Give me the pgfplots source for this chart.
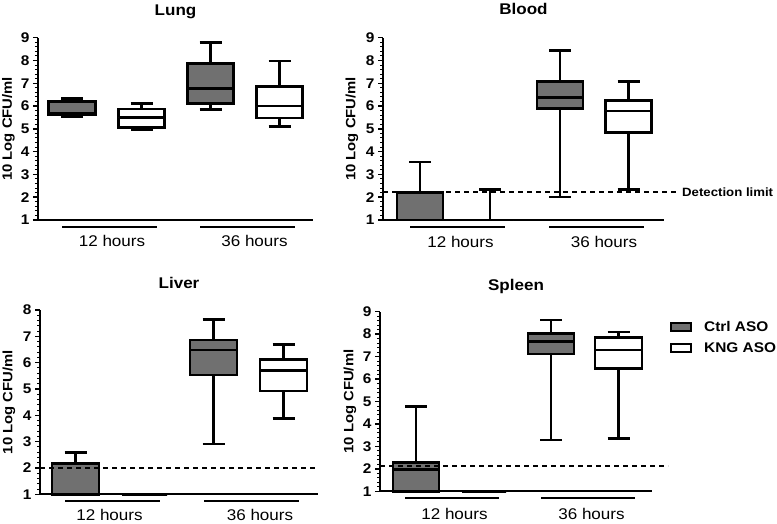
\documentclass[border=0pt]{standalone}
\usepackage{fontspec}
\setmainfont{Liberation Sans}[FakeStretch=1.1]
\usepackage{pgfplots}
\pgfplotsset{compat=1.18}
\usepgfplotslibrary{statistics}
\definecolor{ctrl}{RGB}{112,112,112}

\newcommand{\tickfont}{\bfseries\fontsize{14}{14}\selectfont}
\newcommand{\labfont}{\bfseries\fontsize{13.5}{14}\selectfont}
\newcommand{\titfont}{\bfseries\fontsize{15.5}{16}\selectfont}
\newcommand{\grpfont}{\fontsize{15.5}{16}\selectfont}

\pgfplotsset{
  panel/.style={
    scale only axis, enlargelimits=false, clip=false,
    anchor=south west,
    axis x line=bottom, axis y line=left,
    axis line style={-, line width=2pt},
    xmin=0, ymin=1, xtick=\empty,
    ytick distance=1, minor y tick num=4,
    tick align=outside, major tick length=5pt, minor tick length=3pt,
    every major tick/.append style={line width=1.5pt, black},
    every minor tick/.append style={line width=1pt, black},
    yticklabel style={font=\tickfont},
    /pgf/number format/assume math mode=true,
    boxplot/draw direction=y,
  },
  bx/.style={draw=black, line width=2.6pt, solid},
}

\begin{document}
\begin{tikzpicture}
\useasboundingbox (0,0) rectangle (777pt,-523pt);

% ---------------- Lung ----------------
\begin{axis}[panel, at={(38pt,-220pt)}, width=275pt, height=182.3pt, xmax=275, ymax=9]
\addplot[bx, fill=ctrl, boxplot prepared={draw position=34, lower whisker=5.52, lower quartile=5.60, median=5.69, upper quartile=6.19, upper whisker=6.34, box extend=47, whisker extend=22}] coordinates {};
\addplot[bx, fill=white, boxplot prepared={draw position=103.5, lower whisker=4.97, lower quartile=5.05, median=5.50, upper quartile=5.87, upper whisker=6.10, box extend=46, whisker extend=22}] coordinates {};
\addplot[bx, fill=ctrl, boxplot prepared={draw position=172.5, lower whisker=5.86, lower quartile=6.12, median=6.78, upper quartile=7.88, upper whisker=8.78, box extend=46, whisker extend=22}] coordinates {};
\addplot[bx, fill=white, boxplot prepared={draw position=241.5, lower whisker=5.10, lower quartile=5.47, median=6.00, upper quartile=6.87, upper whisker=7.98, box extend=46, whisker extend=22}] coordinates {};
\draw[line width=1.8pt] ([yshift=-7pt]axis cs:24,1) -- ([yshift=-7pt]axis cs:119,1);
\draw[line width=1.8pt] ([yshift=-7pt]axis cs:162,1) -- ([yshift=-7pt]axis cs:257,1);
\node[anchor=base, font=\grpfont] at ([yshift=-26pt]axis cs:74,1) {12 hours};
\node[anchor=base, font=\grpfont] at ([yshift=-26pt]axis cs:216.5,1) {36 hours};
\node[rotate=90, font=\labfont] at ([xshift=-29.5pt]rel axis cs:0,0.5) {10 Log CFU/ml};
\node[anchor=base, font=\titfont] at ([yshift=22pt]rel axis cs:0.5,1) {Lung};
\end{axis}

% ---------------- Blood ----------------
\begin{axis}[panel, at={(383pt,-220pt)}, width=281pt, height=182.3pt, xmax=281, ymax=9]
\addplot[bx, fill=ctrl, boxplot prepared={draw position=37, lower whisker=1, lower quartile=1, median=1, upper quartile=2.21, upper whisker=3.54, box extend=46, whisker extend=22}] coordinates {};
\addplot[bx, fill=white, boxplot prepared={draw position=107, lower whisker=1, lower quartile=1, median=1, upper quartile=1, upper whisker=2.33, box extend=46, whisker extend=22}] coordinates {};
\addplot[bx, fill=ctrl, boxplot prepared={draw position=177, lower whisker=2.01, lower quartile=5.89, median=6.37, upper quartile=7.09, upper whisker=8.43, box extend=46, whisker extend=22}] coordinates {};
\addplot[bx, fill=white, boxplot prepared={draw position=245.5, lower whisker=2.33, lower quartile=4.84, median=5.79, upper quartile=6.24, upper whisker=7.09, box extend=46, whisker extend=22}] coordinates {};
\addplot[line width=2pt, dash pattern=on 5pt off 4pt] coordinates {(0,2.21) (295,2.21)};
\node[anchor=west, inner sep=0pt, font=\bfseries\fontsize{12}{12}\selectfont] at ([xshift=4pt]axis cs:295,2.21) {Detection limit};
\draw[line width=1.8pt] ([yshift=-7pt]axis cs:27,1) -- ([yshift=-7pt]axis cs:122,1);
\draw[line width=1.8pt] ([yshift=-7pt]axis cs:166,1) -- ([yshift=-7pt]axis cs:261,1);
\node[anchor=base, font=\grpfont] at ([yshift=-27pt]axis cs:77.5,1) {12 hours};
\node[anchor=base, font=\grpfont] at ([yshift=-27pt]axis cs:221,1) {36 hours};
\node[rotate=90, font=\labfont] at ([xshift=-31pt]rel axis cs:0,0.5) {10 Log CFU/ml};
\node[anchor=base, font=\titfont] at ([yshift=23pt]rel axis cs:0.5,1) {Blood};
\end{axis}

% ---------------- Liver ----------------
\begin{axis}[panel, at={(40pt,-494.3pt)}, width=278pt, height=184.3pt, xmax=278, ymax=8]
\addplot[bx, fill=ctrl, boxplot prepared={draw position=35.5, lower whisker=1, lower quartile=1, median=1, upper quartile=2.18, upper whisker=2.59, box extend=47, whisker extend=22}] coordinates {};
\addplot[bx, fill=white, boxplot prepared={draw position=104.5, lower whisker=1, lower quartile=1, median=1, upper quartile=1, upper whisker=1, box extend=45, whisker extend=22}] coordinates {};
\addplot[bx, fill=ctrl, boxplot prepared={draw position=173.5, lower whisker=2.91, lower quartile=5.53, median=6.48, upper quartile=6.86, upper whisker=7.65, box extend=47, whisker extend=22}] coordinates {};
\addplot[bx, fill=white, boxplot prepared={draw position=243.5, lower whisker=3.87, lower quartile=4.92, median=5.70, upper quartile=6.13, upper whisker=6.70, box extend=47, whisker extend=22}] coordinates {};
\addplot[line width=2pt, dash pattern=on 5pt off 4pt] coordinates {(0,2.01) (278,2.01)};
\draw[line width=1.8pt] ([yshift=-6.5pt]axis cs:25,1) -- ([yshift=-6.5pt]axis cs:120,1);
\draw[line width=1.8pt] ([yshift=-6.5pt]axis cs:164,1) -- ([yshift=-6.5pt]axis cs:259,1);
\node[anchor=base, font=\grpfont] at ([yshift=-26pt]axis cs:69.5,1) {12 hours};
\node[anchor=base, font=\grpfont] at ([yshift=-26pt]axis cs:220,1) {36 hours};
\node[rotate=90, font=\labfont] at ([xshift=-31pt]rel axis cs:0,0.5) {10 Log CFU/ml};
\node[anchor=base, font=\titfont] at ([yshift=22pt]rel axis cs:0.5,1) {Liver};
\end{axis}

% ---------------- Spleen ----------------
\begin{axis}[panel, at={(380pt,-491.3pt)}, width=272pt, height=179.6pt, xmax=272, ymax=9,
  legend style={at={(rel axis cs:1,1)}, anchor=north west, xshift=18pt, yshift=-7pt,
    draw=none, fill=none, inner sep=0pt, row sep=6pt,
    font=\bfseries\fontsize{14}{14}\selectfont,
    /tikz/every odd column/.append style={column sep=10pt}},
  legend cell align=left,
  legend image code/.code={\draw (0pt,-4pt) rectangle (20pt,4pt);}]
\addlegendimage{draw=black, fill=ctrl, line width=2pt}
\addlegendentry{Ctrl ASO}
\addlegendimage{draw=black, fill=white, line width=2pt}
\addlegendentry{KNG ASO}
\addplot[bx, fill=ctrl, boxplot prepared={draw position=36, lower whisker=1, lower quartile=1, median=1.98, upper quartile=2.29, upper whisker=4.77, box extend=46, whisker extend=22}] coordinates {};
\addplot[bx, fill=white, boxplot prepared={draw position=104, lower whisker=1, lower quartile=1, median=1, upper quartile=1, upper whisker=1, box extend=44, whisker extend=22}] coordinates {};
\addplot[bx, fill=ctrl, boxplot prepared={draw position=171, lower whisker=3.28, lower quartile=7.11, median=7.66, upper quartile=8.03, upper whisker=8.63, box extend=46, whisker extend=22}] coordinates {};
\addplot[bx, fill=white, boxplot prepared={draw position=238.5, lower whisker=3.36, lower quartile=6.46, median=7.29, upper quartile=7.84, upper whisker=8.09, box extend=47, whisker extend=22}] coordinates {};
\addplot[line width=2pt, dash pattern=on 5pt off 4pt] coordinates {(0,2.14) (288,2.14)};
\draw[line width=1.8pt] ([yshift=-7pt]axis cs:25,1) -- ([yshift=-7pt]axis cs:119,1);
\draw[line width=1.8pt] ([yshift=-7pt]axis cs:161,1) -- ([yshift=-7pt]axis cs:255,1);
\node[anchor=base, font=\grpfont] at ([yshift=-28pt]axis cs:74.5,1) {12 hours};
\node[anchor=base, font=\grpfont] at ([yshift=-28pt]axis cs:211.5,1) {36 hours};
\node[rotate=90, font=\labfont] at ([xshift=-30pt]rel axis cs:0,0.5) {10 Log CFU/ml};
\node[anchor=base, font=\titfont] at ([yshift=21pt]rel axis cs:0.5,1) {Spleen};
\end{axis}
\end{tikzpicture}
\end{document}
